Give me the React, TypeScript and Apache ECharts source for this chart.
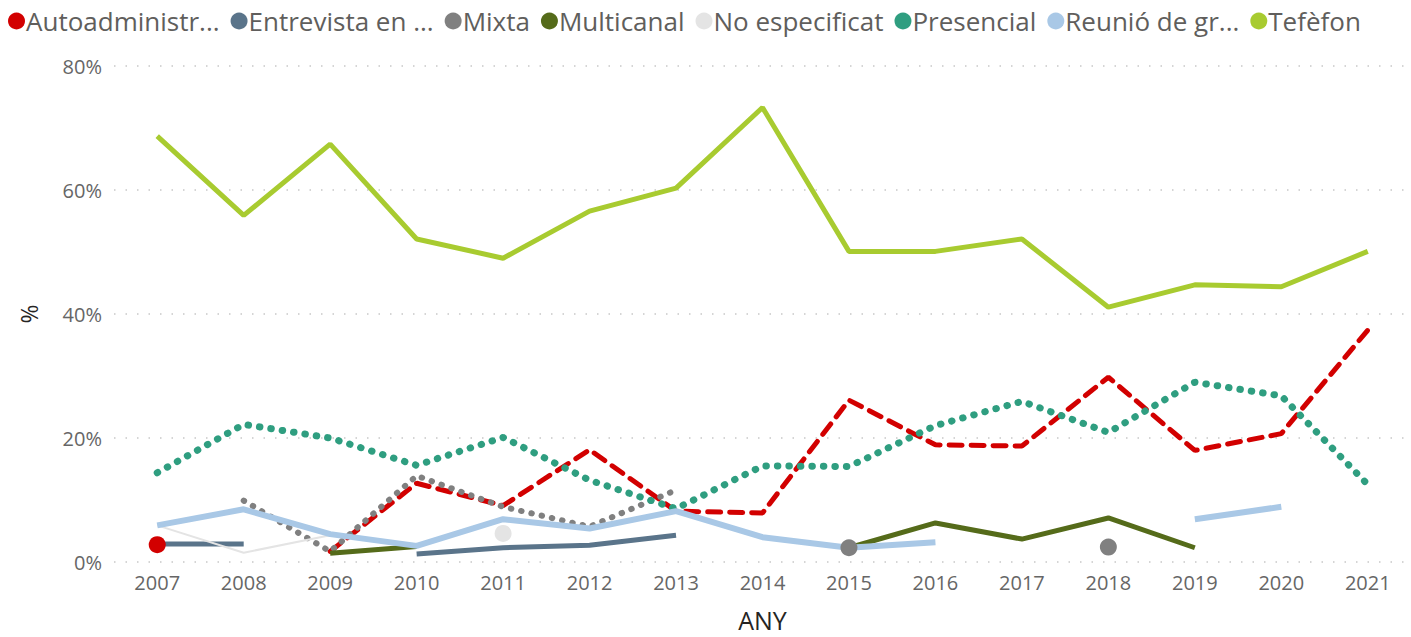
import React, { useEffect, useRef } from "react";
import * as echarts from "echarts";

const years = ["2007", "2008", "2009", "2010", "2011", "2012", "2013", "2014", "2015", "2016", "2017", "2018", "2019", "2020", "2021"];

const autoadministrat = [2.8, null, 1.7, 12.7, 9.1, 18.1, 8.2, 7.9, 26.1, 18.9, 18.7, 29.8, 18.0, 20.7, 37.4];
const entrevista = [2.9, 2.9, null, 1.3, 2.3, 2.7, 4.3, null, null, null, null, null, null, null, null];
const mixta = [null, 9.9, 1.7, 13.9, 8.9, 5.7, 11.6, null, 2.3, null, null, 2.4, null, null, null];
const multicanal = [null, null, 1.4, 2.5, null, null, null, null, 2.3, 6.3, 3.7, 7.1, 2.3, null, null];
const noEspecificat = [5.9, 1.5, 4.3, null, 4.6, null, null, null, null, null, null, null, null, null, null];
const presencial = [14.4, 22.2, 20.0, 15.6, 20.1, 13.2, 8.6, 15.5, 15.4, 22.0, 25.9, 20.9, 29.0, 26.8, 12.5];
const reunio = [5.9, 8.5, 4.5, 2.6, 6.9, 5.4, 8.2, 4.0, 2.3, 3.2, null, null, 6.9, 8.9, null];
const telefon = [68.7, 55.9, 67.4, 52.1, 49.0, 56.6, 60.3, 73.3, 50.1, 50.1, 52.1, 41.1, 44.7, 44.4, 50.1];

const yTicks = [0, 20, 40, 60, 80];

const seriesNames = ["Autoadministr...", "Entrevista en ...", "Mixta", "Multicanal", "No especificat", "Presencial", "Reunió de gr...", "Tefèfon"];
const seriesValues = [autoadministrat, entrevista, mixta, multicanal, noEspecificat, presencial, reunio, telefon];
const seriesColors = ["#D20000", "#5A748A", "#808080", "#556B1A", "#E4E4E4", "#2F9E80", "#A9C8E6", "#A8CB30"];

const FONT = "'Open Sans', 'Noto Sans', sans-serif";

function lineStyleFor(i: number, color: string): any {
  switch (i) {
    case 0:
      return { color, width: 5, type: [13, 9], cap: "round" };
    case 1:
      return { color, width: 5 };
    case 2:
      return { color, width: 6, type: [0.5, 10], cap: "round" };
    case 3:
      return { color, width: 5 };
    case 4:
      return { color, width: 2 };
    case 5:
      return { color, width: 7, type: [0.5, 11], cap: "round" };
    case 6:
      return { color, width: 6 };
    default:
      return { color, width: 5 };
  }
}

function buildData(vals: (number | null)[]) {
  return vals.map((v, idx) => {
    if (v === null) return "-";
    const prev = idx > 0 ? vals[idx - 1] : null;
    const next = idx < vals.length - 1 ? vals[idx + 1] : null;
    const isolated = prev === null && next === null;
    return { value: v, symbol: isolated ? "circle" : "none", symbolSize: isolated ? 17 : 0 };
  });
}

export default function App() {
  const ref = useRef<HTMLDivElement>(null);
  useEffect(() => {
    document.body.style.margin = "0";
    if (!ref.current) return;
    const chart = echarts.init(ref.current, null, { renderer: "svg" });
    const series = seriesNames.map((name, i) => ({
      name,
      type: "line",
      data: buildData(seriesValues[i]),
      showSymbol: true,
      symbol: "circle",
      connectNulls: false,
      itemStyle: { color: seriesColors[i] },
      lineStyle: lineStyleFor(i, seriesColors[i]),
      emphasis: { disabled: true },
    }));
    chart.setOption({
      animation: false,
      textStyle: { fontFamily: FONT },
      legend: {
        left: 3,
        top: 3,
        icon: "circle",
        itemWidth: 17,
        itemHeight: 17,
        itemGap: 11,
        textStyle: { fontSize: 26, color: "#605E5C", fontFamily: FONT, padding: [0, 0, 0, -4] },
        data: seriesNames.map((n, i) => ({ name: n, itemStyle: { color: seriesColors[i] } })),
      },
      grid: { left: 114, right: 0, top: 66, bottom: 74, containLabel: false },
      xAxis: {
        type: "category",
        data: years,
        boundaryGap: true,
        name: "ANY",
        nameLocation: "middle",
        nameGap: 45,
        nameTextStyle: { fontSize: 25, color: "#252423", fontFamily: FONT },
        axisLine: { show: false },
        axisTick: { show: false },
        axisLabel: { fontSize: 20, color: "#666666", margin: 10, fontFamily: FONT },
        splitLine: { show: false },
      },
      yAxis: {
        type: "value",
        min: yTicks[0],
        max: yTicks[yTicks.length - 1],
        interval: 20,
        name: "%",
        nameLocation: "middle",
        nameGap: 74,
        nameTextStyle: { fontSize: 23, color: "#252423", fontFamily: FONT },
        axisLine: { show: false },
        axisTick: { show: false },
        axisLabel: { fontSize: 20, color: "#666666", margin: 12, formatter: "{value}%", fontFamily: FONT },
        splitLine: { show: true, lineStyle: { color: "#C8C8C8", width: 1.5, type: [1.5, 10] } },
      },
      series,
    });
    return () => chart.dispose();
  }, []);
  return <div ref={ref} style={{ width: 1411, height: 637 }} />;
}
